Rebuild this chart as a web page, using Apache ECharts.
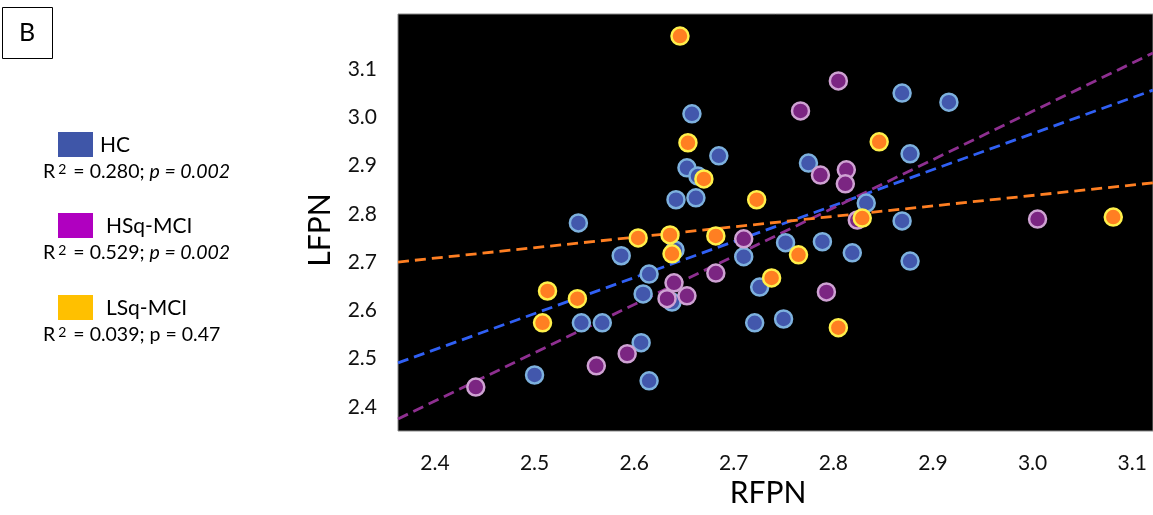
<!DOCTYPE html>
<html>
<head>
<meta charset="utf-8">
<script src="https://cdn.jsdelivr.net/npm/echarts@6/dist/echarts.min.js"></script>
<style>
html,body{margin:0;padding:0;background:#fff;}
#chart{width:1153px;height:515px;}
</style>
</head>
<body>
<div id="chart"></div>
<script>
// ---- data ----
const hcPoints = [
  [2.658,3.007],[2.869,3.050],[2.916,3.031],[2.685,2.920],[2.877,2.924],
  [2.653,2.895],[2.664,2.878],[2.775,2.905],[2.642,2.829],[2.662,2.833],
  [2.833,2.822],[2.869,2.785],[2.544,2.781],[2.587,2.713],[2.615,2.675],
  [2.641,2.725],[2.710,2.711],[2.752,2.740],[2.789,2.742],[2.819,2.719],
  [2.877,2.702],[2.609,2.634],[2.638,2.617],[2.726,2.648],[2.547,2.574],
  [2.568,2.574],[2.721,2.574],[2.750,2.582],[2.607,2.533],[2.500,2.466],
  [2.615,2.454]
];
const hsqPoints = [
  [2.805,3.075],[2.767,3.013],[2.787,2.880],[2.813,2.891],[2.812,2.862],
  [2.824,2.787],[2.710,2.748],[2.682,2.677],[2.640,2.657],[2.633,2.624],
  [2.653,2.630],[2.793,2.638],[2.593,2.510],[2.562,2.485],[2.441,2.441],
  [3.005,2.789]
];
const lsqPoints = [
  [2.646,3.168],[2.654,2.947],[2.846,2.949],[2.670,2.872],[2.723,2.829],
  [2.829,2.791],[2.604,2.750],[2.636,2.756],[2.638,2.717],[2.682,2.754],
  [2.765,2.715],[2.738,2.667],[2.513,2.640],[2.543,2.624],[2.508,2.574],
  [2.805,2.564],[3.081,2.793]
];
// fitted lines (endpoints)
const hcLine  = [[2.3629,2.491],[3.1209,3.056]];
const hsqLine = [[2.3629,2.375],[3.1209,3.133]];
const lsqLine = [[2.3629,2.700],[3.1209,2.864]];
const tickValues = [2.4,2.5,2.6,2.7,2.8,2.9,3.0,3.1];
const groupNames = ['HC','HSq-MCI','LSq-MCI'];
const groupStats = [
  {r2:'0.280', p:'p = 0.002', italic:true},
  {r2:'0.529', p:'p = 0.002', italic:true},
  {r2:'0.039', p:'p = 0.47', italic:false}
];

// ---- styles ----
const FONT = 'Lato, "Open Sans", sans-serif';
const fills   = ['#4257AC','#7B2582','#FF7F22'];
const borders = ['#7DB1DE','#CFA2D3','#FFF04A'];
const lineCols = ['#3060F4','#8E2F90','#FF7F22'];
const swatch  = ['#3F56A8','#B000C0','#FFC000'];

const chart = echarts.init(document.getElementById('chart'), null, {renderer:'canvas'});

function scatter(name, data, i, z){
  return {
    name, type:'scatter', data, z,
    symbol:'circle', symbolSize:17,
    itemStyle:{color:fills[i], borderColor:borders[i], borderWidth:2.5, opacity:1},
    emphasis:{disabled:true}
  };
}
function fitLine(data, i){
  return {
    type:'line', data, z:1, symbol:'none', silent:true,
    lineStyle:{color:lineCols[i], width:2.8, type:[11,6]},
    clip:true
  };
}

const legendY = [145, 226, 308];
const graphics = [
  {type:'rect', left:2, top:7, shape:{width:50,height:51},
   style:{fill:'#fff', stroke:'#000', lineWidth:1}},
  {type:'text', x:27, y:33, style:{text:'B', font:'25px '+FONT, fill:'#000', align:'center', verticalAlign:'middle'}},
  {type:'text', x:320, y:230, rotation:Math.PI/2,
   style:{text:'LFPN', font:'30px '+FONT, fill:'#000', align:'center', verticalAlign:'middle'}},
  {type:'text', x:768, y:493,
   style:{text:'RFPN', font:'30px '+FONT, fill:'#000', align:'center', verticalAlign:'middle'}}
];
groupNames.forEach((n,i)=>{
  const y = legendY[i];
  graphics.push({type:'rect', left:58, top:y-13, shape:{width:35,height:25}, style:{fill:swatch[i]}});
  graphics.push({type:'text', x: i===0?100:106, y:y, style:{text:n, font:'21px '+FONT, fill:'#000', verticalAlign:'middle'}});
  const s = groupStats[i];
  graphics.push({type:'text', x:43, y:y+27, style:{
    text:'{r|R}{s|2}{n| = '+s.r2+'; }{'+(s.italic?'i':'n')+'|'+s.p+'}',
    verticalAlign:'middle',
    rich:{
      r:{fontSize:19.5, fontFamily:FONT, fill:'#000'},
      s:{fontSize:14, fontFamily:FONT, fill:'#000', padding:[0,2,5,3]},
      n:{fontSize:19.5, fontFamily:FONT, fill:'#000'},
      i:{fontSize:19.5, fontFamily:FONT, fontStyle:'italic', fill:'#000'}
    }
  }});
});

chart.setOption({
  animation:false,
  backgroundColor:'#fff',
  grid:{left:398, top:14, right:0, bottom:84, show:true, backgroundColor:'#000', borderColor:'#8a8a8a', borderWidth:1},
  xAxis:{
    type:'value', min:2.3629, max:3.1209,
    axisLine:{show:false}, axisTick:{show:false}, splitLine:{show:false},
    axisLabel:{customValues:tickValues, formatter:v=>v.toFixed(1), fontSize:21, fontFamily:FONT, color:'#111', margin:22}
  },
  yAxis:{
    type:'value', min:2.350, max:3.2137,
    axisLine:{show:false}, axisTick:{show:false}, splitLine:{show:false},
    axisLabel:{customValues:tickValues, formatter:v=>v.toFixed(1), fontSize:21, fontFamily:FONT, color:'#111', margin:21}
  },
  series:[
    fitLine(hcLine,0), fitLine(hsqLine,1), fitLine(lsqLine,2),
    scatter(groupNames[0], hcPoints, 0, 2),
    scatter(groupNames[1], hsqPoints, 1, 3),
    scatter(groupNames[2], lsqPoints, 2, 4)
  ],
  graphic:graphics
});
</script>
</body>
</html>
